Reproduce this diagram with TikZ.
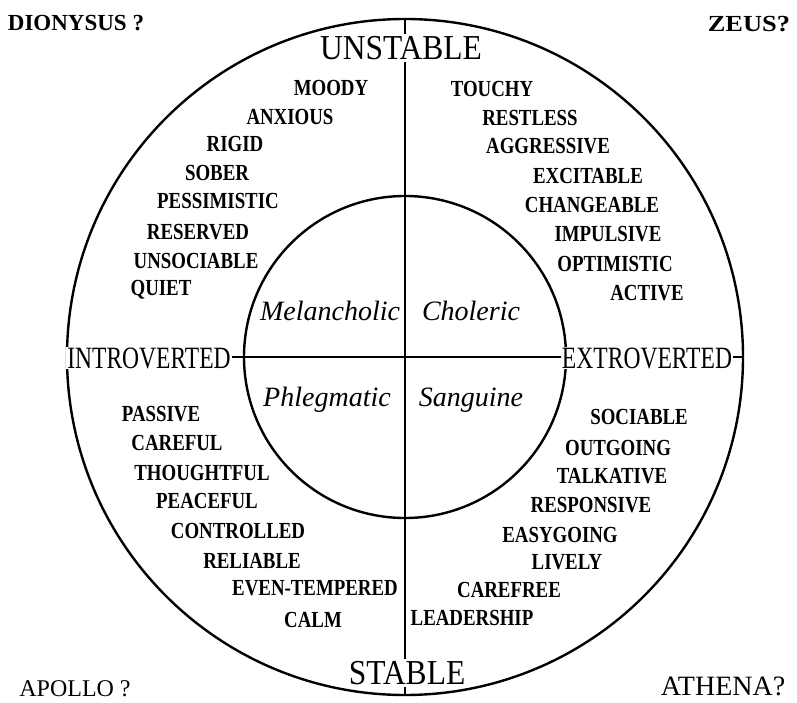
\documentclass[tikz,border=0pt]{standalone}
\usepackage{fontspec}
\setmainfont{Liberation Serif}
\newfontfamily\wordfont[FakeStretch=0.82]{Liberation Serif}
\newfontfamily\vaxfont[FakeStretch=0.9]{Liberation Serif}
\newfontfamily\haxfont[FakeStretch=0.76]{Liberation Serif}
\newfontfamily\widefont[FakeStretch=1.15]{Liberation Serif}
\begin{document}
\begin{tikzpicture}[x=1pt,y=-1pt,
  ring/.style={circle, draw, line width=2.4pt, inner sep=0pt},
  axisline/.style={line width=2pt},
  word/.style={font={\wordfont\bfseries\fontsize{23}{25}\selectfont}, inner sep=0pt},
  vaxis/.style={font={\vaxfont\fontsize{35}{38}\selectfont}, fill=white, inner sep=2pt},
  haxis/.style={font={\haxfont\fontsize{31}{34}\selectfont}, fill=white, inner sep=1pt},
  temper/.style={font={\itshape\fontsize{28}{30}\selectfont}, inner sep=0pt, anchor=base},
  god/.style={inner sep=0pt}
]
\useasboundingbox (0,0) rectangle (797,703);
\node[ring, minimum size=676pt] (outer) at (405,357) {};
\node[ring, minimum size=322pt] (inner) at (405,357) {};
\draw[axisline] (outer.north) -- (outer.south);
\draw[axisline] (outer.west) -- (outer.east);

% axis labels
\node[vaxis] (unstable) at (401,48) {UNSTABLE};
\node[vaxis] (stable) at (407,673) {STABLE};
\node[haxis] (intro) at (149,358) {INTROVERTED};
\node[haxis] (extro) at (647,358) {EXTROVERTED};

% temperaments
\node[temper] (mel) at (330,320) {Melancholic};
\node[temper] (chol) at (471,320) {Choleric};
\node[temper] (phleg) at (327,406) {Phlegmatic};
\node[temper] (sang) at (471,406) {Sanguine};

% corner gods
\node[god, font={\bfseries\fontsize{23}{25}\selectfont}] (dion) at (76,23) {DIONYSUS ?};
\node[god, font={\widefont\bfseries\fontsize{23}{25}\selectfont}] (zeus) at (749,24) {ZEUS?};
\node[god, font={\fontsize{24}{26}\selectfont}] (apollo) at (75,689) {APOLLO ?};
\node[god, font={\fontsize{28}{30}\selectfont}] (athena) at (723,686) {ATHENA?};

% upper left
\node[word] (moody) at (331,88) {MOODY};
\node[word] (anxious) at (290,117) {ANXIOUS};
\node[word] (rigid) at (235,144) {RIGID};
\node[word] (sober) at (217,173) {SOBER};
\node[word] (pessim) at (218,201) {PESSIMISTIC};
\node[word] (reserved) at (198,232) {RESERVED};
\node[word] (unsoc) at (196,261) {UNSOCIABLE};
\node[word] (quiet) at (161,290) {QUIET};

% upper right
\node[word] (touchy) at (492,89) {TOUCHY};
\node[word] (restless) at (530,118) {RESTLESS};
\node[word] (aggr) at (548,146) {AGGRESSIVE};
\node[word] (excit) at (588,176) {EXCITABLE};
\node[word] (change) at (592,205) {CHANGEABLE};
\node[word] (impuls) at (608,234) {IMPULSIVE};
\node[word] (optim) at (615,264) {OPTIMISTIC};
\node[word] (active) at (647,293) {ACTIVE};

% lower left
\node[word] (passive) at (161,414) {PASSIVE};
\node[word] (careful) at (177,443) {CAREFUL};
\node[word] (thought) at (202,473) {THOUGHTFUL};
\node[word] (peace) at (207,501) {PEACEFUL};
\node[word] (control) at (238,531) {CONTROLLED};
\node[word] (reliab) at (252,561) {RELIABLE};
\node[word] (eventemp) at (315,588) {EVEN-TEMPERED};
\node[word] (calm) at (313,620) {CALM};

% lower right
\node[word] (sociab) at (639,417) {SOCIABLE};
\node[word] (outgo) at (618,448) {OUTGOING};
\node[word] (talk) at (612,476) {TALKATIVE};
\node[word] (respon) at (591,505) {RESPONSIVE};
\node[word] (easy) at (560,535) {EASYGOING};
\node[word] (lively) at (567,562) {LIVELY};
\node[word] (carefree) at (509,590) {CAREFREE};
\node[word] (leader) at (472,618) {LEADERSHIP};
\end{tikzpicture}
\end{document}
